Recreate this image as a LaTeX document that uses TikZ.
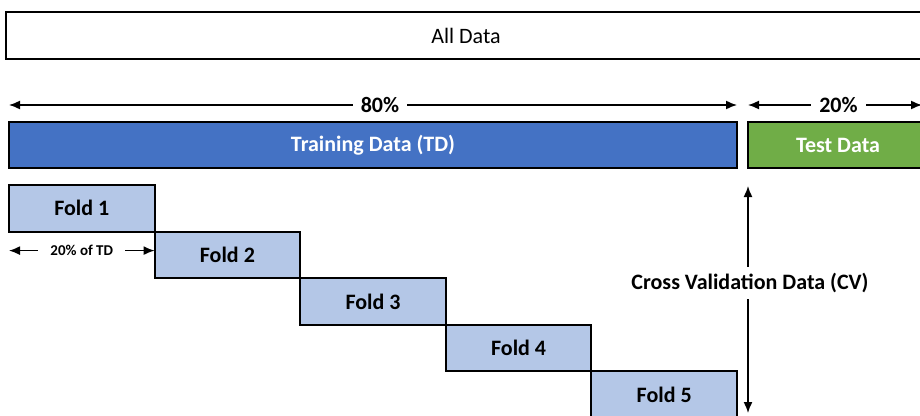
\documentclass[tikz,border=0pt]{standalone}
\usepackage{fontspec}
\setmainfont{Carlito}
\usetikzlibrary{arrows.meta}
\definecolor{tdblue}{HTML}{4472C4}
\definecolor{testgreen}{HTML}{70AD47}
\definecolor{foldblue}{HTML}{B4C7E7}
\begin{document}
\begin{tikzpicture}[x=1pt,y=-1pt,
  box/.style={draw=black, line width=2pt, anchor=north west, inner sep=0pt, outer sep=0pt,
              font=\fontsize{22}{26}\selectfont},
  boldbox/.style={box, font=\fontsize{22}{26}\selectfont\bfseries},
  fold/.style={boldbox, fill=foldblue, minimum width=145.6pt, minimum height=46.6pt},
  dim/.style={line width=1.5pt, {Latex[length=11pt,width=9pt]}-{Latex[length=11pt,width=9pt]}},
  dimlabel/.style={fill=white, inner xsep=8pt, inner ysep=6pt, font=\fontsize{22}{26}\selectfont\bfseries},
  smalllabel/.style={fill=white, inner xsep=12pt, inner ysep=5pt, font=\fontsize{15}{18}\selectfont\bfseries}]
\clip (0,0) rectangle (920,415);

% whole data set
\node[box, minimum width=920pt, minimum height=47pt] (all) at (6,12) {All Data};

% train / test split
\node[boldbox, fill=tdblue, text=white, minimum width=728pt, minimum height=46pt] (td) at (9,122) {Training Data (TD)};
\node[boldbox, fill=testgreen, text=white, minimum width=180pt, minimum height=46pt] (test) at (748,122) {Test Data};

\coordinate (testend) at (922,105);
\draw[dim] ([yshift=17pt]td.north west) -- ([yshift=17pt]td.north east)
  node[dimlabel, midway, xshift=7pt] {80\%};
\draw[dim] ([yshift=17pt]test.north west) -- (testend)
  node[dimlabel, pos=0.52] {20\%};

% cross-validation folds
\node[fold] (f1) at (9,185) {Fold 1};
\node[fold] (f2) at (f1.south east) {Fold 2};
\node[fold] (f3) at (f2.south east) {Fold 3};
\node[fold] (f4) at (f3.south east) {Fold 4};
\node[fold] (f5) at (f4.south east) {Fold 5};

\draw[dim] ([yshift=-19pt]f1.south west) -- ([yshift=-19pt]f1.south east)
  node[smalllabel, midway] {20\% of TD};

% extent of the cross-validation data
\coordinate (cvtop) at (748,186);
\coordinate (cvbot) at (748,413);
\draw[dim] (cvtop) -- (cvbot);
\node[dimlabel] (cv) at (750,283) {Cross Validation Data (CV)};
\end{tikzpicture}
\end{document}
